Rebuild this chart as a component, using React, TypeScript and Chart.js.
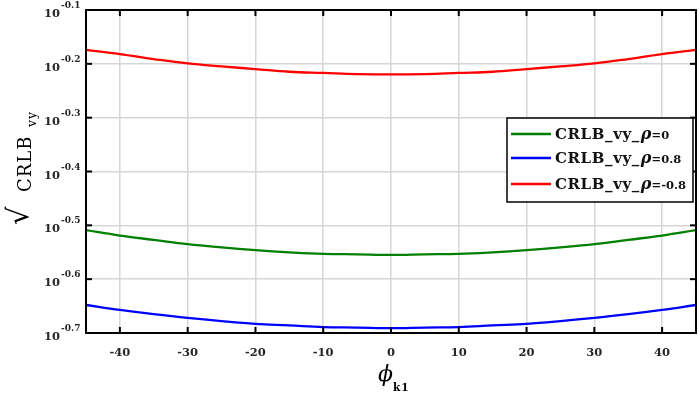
import { useEffect, useRef } from 'react';
import { Chart, registerables } from 'chart.js';

Chart.register(...registerables);

const phi = [-45, -40, -35, -30, -25, -20, -15, -10, -5, 0, 5, 10, 15, 20, 25, 30, 35, 40, 45];
const crlbRho0 = [0.3097, 0.3027, 0.2972, 0.2917, 0.2877, 0.2844, 0.2818, 0.2799, 0.2793, 0.2786, 0.2793, 0.2799, 0.2818, 0.2844, 0.2877, 0.2917, 0.2972, 0.3027, 0.3097];
const crlbRho08 = [0.2249, 0.2203, 0.2163, 0.2128, 0.2099, 0.2075, 0.2061, 0.2046, 0.2042, 0.2037, 0.2042, 0.2046, 0.2061, 0.2075, 0.2099, 0.2128, 0.2163, 0.2203, 0.2249];
const crlbRhoM08 = [0.670, 0.658, 0.644, 0.632, 0.624, 0.617, 0.610, 0.607, 0.604, 0.603, 0.604, 0.607, 0.610, 0.617, 0.624, 0.632, 0.644, 0.658, 0.670];

const xTicks = [-40, -30, -20, -10, 0, 10, 20, 30, 40];
const yTickExps = [-0.7, -0.6, -0.5, -0.4, -0.3, -0.2, -0.1];
const yTickLabels = ['-0.7', '-0.6', '-0.5', '-0.4', '-0.3', '-0.2', '-0.1'];

const seriesNames = ['0', '0.8', '-0.8'];
const seriesColors = ['#008000', '#0000ff', '#ff0000'];

const SERIF = '"DejaVu Serif", "Liberation Serif", serif';

const decorPlugin = {
  id: 'decor',
  afterDraw(chart: any) {
    const { ctx, chartArea: a, scales } = chart;
    const xs = scales.x;
    const ys = scales.y;
    ctx.save();
    const line = (x1: number, y1: number, x2: number, y2: number) => {
      ctx.beginPath();
      ctx.moveTo(x1, y1);
      ctx.lineTo(x2, y2);
      ctx.stroke();
    };
    // box
    ctx.strokeStyle = '#000';
    ctx.lineWidth = 2;
    ctx.strokeRect(a.left, a.top, a.right - a.left, a.bottom - a.top);
    // inward ticks
    xTicks.forEach((v) => {
      const px = xs.getPixelForValue(v);
      line(px, a.bottom, px, a.bottom - 6);
      line(px, a.top, px, a.top + 6);
    });
    yTickExps.forEach((e) => {
      const py = ys.getPixelForValue(Math.pow(10, e));
      line(a.left, py, a.left + 6, py);
      line(a.right, py, a.right - 6, py);
    });
    ctx.fillStyle = '#262626';
    // x tick labels
    ctx.font = `bold 11.5px ${SERIF}`;
    ctx.textAlign = 'center';
    ctx.textBaseline = 'alphabetic';
    xTicks.forEach((v) => {
      ctx.fillText(String(v), xs.getPixelForValue(v), 356);
    });
    // y tick labels
    yTickExps.forEach((e, i) => {
      const py = ys.getPixelForValue(Math.pow(10, e));
      ctx.font = `bold 11.5px ${SERIF}`;
      ctx.textAlign = 'right';
      ctx.fillText('10', 60, py + 7);
      ctx.font = `bold 9px ${SERIF}`;
      ctx.textAlign = 'left';
      ctx.fillText(yTickLabels[i], 61, py - 2);
    });
    // x axis title
    ctx.fillStyle = '#000';
    ctx.textAlign = 'left';
    ctx.font = `italic 22px ${SERIF}`;
    ctx.fillText('\u03d5', 378, 381);
    ctx.font = `bold 10.5px ${SERIF}`;
    ctx.letterSpacing = '1px';
    ctx.fillText('k1', 393, 391);
    ctx.letterSpacing = '0px';
    // y axis title
    ctx.save();
    ctx.translate(31, 225);
    ctx.rotate(-Math.PI / 2);
    ctx.textAlign = 'left';
    ctx.font = `29px ${SERIF}`;
    ctx.fillText('\u221a', 0, -3);
    ctx.font = `18px ${SERIF}`;
    ctx.letterSpacing = '1px';
    ctx.fillText('CRLB', 33, 0);
    ctx.font = `12.5px ${SERIF}`;
    ctx.fillText('vy', 98, 5);
    ctx.letterSpacing = '0px';
    ctx.restore();
    // legend
    const lx = 507, ly = 118, lw = 186, lh = 84;
    ctx.fillStyle = '#fff';
    ctx.fillRect(lx, ly, lw, lh);
    ctx.strokeStyle = '#000';
    ctx.lineWidth = 1.5;
    ctx.strokeRect(lx, ly, lw, lh);
    const rows = [134, 158, 184];
    seriesNames.forEach((n, i) => {
      const ry = rows[i];
      ctx.strokeStyle = seriesColors[i];
      ctx.lineWidth = 2.5;
      line(511, ry, 551, ry);
      ctx.fillStyle = '#111';
      ctx.textAlign = 'left';
      let x = 555;
      ctx.font = `bold 15px ${SERIF}`;
      ctx.letterSpacing = '0.6px';
      ctx.fillText('CRLB_vy_', x, ry + 5);
      x += ctx.measureText('CRLB_vy_').width + 1;
      ctx.letterSpacing = '0px';
      ctx.font = `bold italic 16px ${SERIF}`;
      ctx.fillText('\u03c1', x, ry + 5);
      x += ctx.measureText('\u03c1').width;
      ctx.font = `bold 11.5px ${SERIF}`;
      ctx.fillText('=' + n, x, ry + 5);
    });
    ctx.restore();
  },
};

export default function App() {
  const ref = useRef<HTMLCanvasElement>(null);
  useEffect(() => {
    const mk = (data: number[], color: string, label: string) => ({
      label,
      data: phi.map((p, i) => ({ x: p, y: data[i] })),
      borderColor: color,
      backgroundColor: color,
      borderWidth: 2.3,
      pointRadius: 0,
      tension: 0.4,
    });
    const chart = new Chart(ref.current as HTMLCanvasElement, {
      type: 'line',
      data: {
        datasets: [
          mk(crlbRho0, seriesColors[0], 'CRLB_vy_\u03c1=0'),
          mk(crlbRho08, seriesColors[1], 'CRLB_vy_\u03c1=0.8'),
          mk(crlbRhoM08, seriesColors[2], 'CRLB_vy_\u03c1=-0.8'),
        ],
      },
      options: {
        animation: false,
        responsive: false,
        layout: { padding: { left: 86, right: 3, top: 10, bottom: 60 } },
        plugins: { legend: { display: false }, tooltip: { enabled: false } },
        scales: {
          x: {
            type: 'linear',
            min: -45,
            max: 45,
            afterBuildTicks: (s: any) => {
              s.ticks = xTicks.map((v) => ({ value: v }));
            },
            afterFit: (s: any) => {
              s.height = 0;
            },
            ticks: { display: false },
            grid: { color: '#d6d6d6', lineWidth: 1.5, drawTicks: false },
            border: { display: false },
          },
          y: {
            type: 'logarithmic',
            min: Math.pow(10, -0.7),
            max: Math.pow(10, -0.1),
            afterBuildTicks: (s: any) => {
              s.ticks = yTickExps.map((e) => ({ value: Math.pow(10, e) }));
            },
            afterFit: (s: any) => {
              s.width = 0;
            },
            ticks: { display: false },
            grid: { color: '#d6d6d6', lineWidth: 1.5, drawTicks: false },
            border: { display: false },
          },
        },
      },
      plugins: [decorPlugin],
    });
    return () => chart.destroy();
  }, []);
  return (
    <div style={{ position: 'fixed', left: 0, top: 0, width: 699, height: 393, background: '#fff' }}>
      <canvas ref={ref} width={699} height={393} style={{ width: 699, height: 393, display: 'block' }} />
    </div>
  );
}
